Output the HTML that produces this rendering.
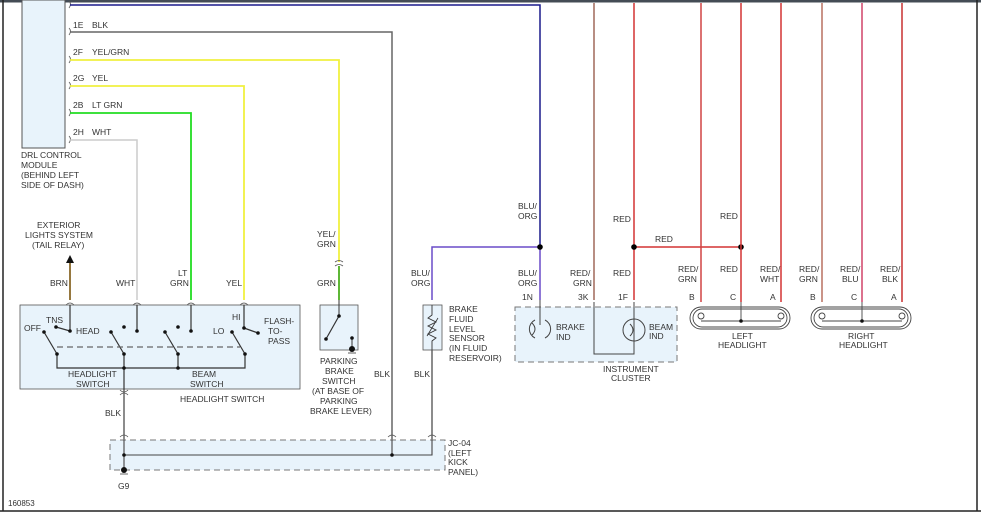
<!DOCTYPE html>
<html><head><meta charset="utf-8"><style>
html,body{margin:0;padding:0;background:#fff}
svg{display:block}
text{font-family:"Liberation Sans",sans-serif;font-size:8.5px;fill:#333}
</style></head><body>
<svg width="981" height="516" viewBox="0 0 981 516" xmlns="http://www.w3.org/2000/svg">
<rect x="0" y="0" width="981" height="2.5" fill="#444c55"/>
<line x1="3" y1="0" x2="3" y2="511" stroke="#222" stroke-width="1.5"/>
<line x1="977" y1="0" x2="977" y2="511" stroke="#222" stroke-width="1.5"/>
<line x1="0" y1="511" x2="981" y2="511" stroke="#222" stroke-width="1.5"/>

<!-- DRL module -->
<rect x="22" y="0" width="43" height="148" fill="#e8f3fb" stroke="#555" stroke-width="1"/>
<text x="21" y="158">DRL CONTROL</text><text x="21" y="168">MODULE</text><text x="21" y="178">(BEHIND LEFT</text><text x="21" y="188">SIDE OF DASH)</text>
<g fill="none" stroke="#555" stroke-width="0.8">
<path d="M69,1 q3,3 0,7"/><path d="M69,28 q3,3 0,7"/><path d="M69,56 q3,3 0,7"/><path d="M69,82 q3,3 0,7"/><path d="M69,109 q3,3 0,7"/><path d="M69,136 q3,3 0,7"/>
</g>
<text x="73" y="28">1E</text><text x="92" y="28">BLK</text>
<text x="73" y="55">2F</text><text x="92" y="55">YEL/GRN</text>
<text x="73" y="81">2G</text><text x="92" y="81">YEL</text>
<text x="73" y="108">2B</text><text x="92" y="108">LT GRN</text>
<text x="73" y="135">2H</text><text x="92" y="135">WHT</text>

<!-- wires -->
<polyline points="70,5 540,5 540,247" fill="none" stroke="#1a1a8c" stroke-width="1.5"/>
<polyline points="70,32 392,32 392,440" fill="none" stroke="#666" stroke-width="1.5"/>
<polyline points="70,60 339,60 339,262" fill="none" stroke="#f0f040" stroke-width="1.8"/>
<line x1="339" y1="266" x2="339" y2="300" stroke="#4caf20" stroke-width="1.8"/>
<polyline points="70,86 244,86 244,300" fill="none" stroke="#f0f040" stroke-width="1.8"/>
<polyline points="70,113 191,113 191,300" fill="none" stroke="#22dd22" stroke-width="1.8"/>
<polyline points="70,140 137,140 137,300" fill="none" stroke="#ccc" stroke-width="1.5"/>
<line x1="70" y1="262" x2="70" y2="300" stroke="#8a6a2a" stroke-width="1.8"/>
<polygon points="66,263 74,263 70,255" fill="#111"/>
<path d="M335,262 q4,-3 8,0 M335,266 q4,-3 8,0" fill="none" stroke="#555" stroke-width="0.8"/>

<polyline points="432,300 432,247 540,247 540,300" fill="none" stroke="#6a4cc8" stroke-width="1.5"/>
<line x1="432" y1="350" x2="432" y2="440" stroke="#666" stroke-width="1.5"/>
<line x1="124" y1="390" x2="124" y2="440" stroke="#666" stroke-width="1.5"/>
<circle cx="540" cy="247" r="2.8" fill="#000"/>

<line x1="594" y1="3" x2="594" y2="300" stroke="#a0685a" stroke-width="1.5"/>
<line x1="634" y1="3" x2="634" y2="300" stroke="#d43434" stroke-width="1.5"/>
<line x1="634" y1="247" x2="741" y2="247" stroke="#d43434" stroke-width="1.5"/>
<circle cx="634" cy="247" r="2.8" fill="#000"/><circle cx="741" cy="247" r="2.8" fill="#000"/>
<line x1="701" y1="3" x2="701" y2="302" stroke="#d04444" stroke-width="1.5"/>
<line x1="741" y1="3" x2="741" y2="302" stroke="#d43434" stroke-width="1.5"/>
<line x1="781" y1="3" x2="781" y2="302" stroke="#d43434" stroke-width="1.5"/>
<line x1="822" y1="3" x2="822" y2="302" stroke="#b87060" stroke-width="1.5"/>
<line x1="862" y1="3" x2="862" y2="302" stroke="#d04468" stroke-width="1.5"/>
<line x1="902" y1="3" x2="902" y2="302" stroke="#c83030" stroke-width="1.5"/>

<!-- labels for upper wires -->
<text x="37" y="228">EXTERIOR</text><text x="25" y="238">LIGHTS SYSTEM</text><text x="32" y="248">(TAIL RELAY)</text>
<text x="50" y="286">BRN</text><text x="116" y="286">WHT</text><text x="178" y="276">LT</text><text x="170" y="286">GRN</text><text x="226" y="286">YEL</text>
<text x="317" y="237">YEL/</text><text x="317" y="247">GRN</text><text x="317" y="286">GRN</text>
<text x="411" y="276">BLU/</text><text x="411" y="286">ORG</text>
<text x="518" y="209">BLU/</text><text x="518" y="219">ORG</text>
<text x="518" y="276">BLU/</text><text x="518" y="286">ORG</text>
<text x="570" y="276">RED/</text><text x="573" y="286">GRN</text>
<text x="613" y="222">RED</text><text x="613" y="276">RED</text>
<text x="655" y="242">RED</text><text x="720" y="219">RED</text>
<text x="678" y="272">RED/</text><text x="678" y="282">GRN</text><text x="720" y="272">RED</text><text x="760" y="272">RED/</text><text x="760" y="282">WHT</text>
<text x="799" y="272">RED/</text><text x="799" y="282">GRN</text><text x="840" y="272">RED/</text><text x="842" y="282">BLU</text><text x="880" y="272">RED/</text><text x="882" y="282">BLK</text>

<!-- headlight switch -->
<rect x="20" y="305" width="280" height="84" fill="#e8f3fb" stroke="#555" stroke-width="0.8"/>
<g fill="none" stroke="#555" stroke-width="0.8">
<path d="M66,305 q4,-4 8,0 M133,305 q4,-4 8,0 M187,305 q4,-4 8,0 M240,305 q4,-4 8,0 M120,390 q4,4 8,0 M120,395 q4,-4 8,0"/>
</g>
<g stroke="#333" stroke-width="1.2" fill="none">
<line x1="70" y1="305" x2="70" y2="331"/><line x1="137" y1="305" x2="137" y2="331"/><line x1="191" y1="305" x2="191" y2="331"/><line x1="244" y1="305" x2="244" y2="328"/>
<line x1="56" y1="327" x2="70" y2="331"/><line x1="244" y1="328" x2="258" y2="333"/>
<line x1="44" y1="332" x2="57" y2="354"/><line x1="111" y1="332" x2="124" y2="354"/><line x1="165" y1="332" x2="178" y2="354"/><line x1="232" y1="332" x2="245" y2="354"/>
<polyline points="57,354 57,368 245,368 245,354"/><line x1="124" y1="354" x2="124" y2="390"/>
<line x1="178" y1="354" x2="178" y2="368"/>
</g>
<line x1="57" y1="347" x2="240" y2="347" stroke="#666" stroke-width="1.2" stroke-dasharray="6,4"/>
<g fill="#111">
<circle cx="56" cy="327" r="1.8"/><circle cx="70" cy="331" r="1.8"/><circle cx="44" cy="332" r="1.8"/><circle cx="57" cy="354" r="1.8"/>
<circle cx="111" cy="332" r="1.8"/><circle cx="124" cy="327" r="1.8"/><circle cx="137" cy="331" r="1.8"/><circle cx="124" cy="354" r="1.8"/><circle cx="124" cy="368" r="1.8"/>
<circle cx="165" cy="332" r="1.8"/><circle cx="178" cy="327" r="1.8"/><circle cx="191" cy="331" r="1.8"/><circle cx="178" cy="354" r="1.8"/><circle cx="178" cy="368" r="1.8"/>
<circle cx="232" cy="332" r="1.8"/><circle cx="245" cy="354" r="1.8"/><circle cx="244" cy="328" r="1.8"/><circle cx="258" cy="333" r="1.8"/>
</g>
<text x="46" y="323">TNS</text><text x="24" y="331">OFF</text><text x="76" y="334">HEAD</text><text x="213" y="334">LO</text><text x="232" y="320">HI</text>
<text x="264" y="324">FLASH-</text><text x="268" y="334">TO-</text><text x="268" y="344">PASS</text>
<text x="68" y="377">HEADLIGHT</text><text x="76" y="387">SWITCH</text><text x="192" y="377">BEAM</text><text x="190" y="387">SWITCH</text>
<text x="180" y="402">HEADLIGHT SWITCH</text>
<text x="105" y="416">BLK</text>

<!-- parking brake switch -->
<rect x="320" y="305" width="38" height="45" fill="#e8f3fb" stroke="#555" stroke-width="0.8"/>
<line x1="339" y1="300" x2="339" y2="316" stroke="#333"/>
<line x1="339" y1="316" x2="326" y2="339" stroke="#333" stroke-width="1.2"/>
<circle cx="339" cy="316" r="1.8" fill="#111"/><circle cx="326" cy="339" r="1.8" fill="#111"/>
<line x1="352" y1="338" x2="352" y2="349" stroke="#333"/><circle cx="352" cy="338" r="1.8" fill="#111"/><circle cx="352" cy="349" r="3" fill="#111"/>
<line x1="348" y1="353" x2="356" y2="353" stroke="#333" stroke-width="0.8"/>
<text x="320" y="364">PARKING</text><text x="325" y="374">BRAKE</text><text x="322" y="384">SWITCH</text><text x="312" y="394">(AT BASE OF</text><text x="320" y="404">PARKING</text><text x="310" y="414">BRAKE LEVER)</text>
<text x="374" y="377">BLK</text><text x="414" y="377">BLK</text>

<!-- brake fluid sensor -->
<rect x="423" y="305" width="19" height="45" fill="#e8f3fb" stroke="#555" stroke-width="0.8"/>
<polyline points="432,305 432,315 428,318 436,322 428,326 436,330 428,334 436,338 432,341 432,350" fill="none" stroke="#333" stroke-width="0.9"/>
<line x1="427" y1="336" x2="438" y2="318" stroke="#333" stroke-width="0.8"/>
<text x="449" y="312">BRAKE</text><text x="449" y="322">FLUID</text><text x="449" y="332">LEVEL</text><text x="449" y="341">SENSOR</text><text x="449" y="351">(IN FLUID</text><text x="449" y="361">RESERVOIR)</text>

<!-- instrument cluster -->
<rect x="515" y="307" width="162" height="55" fill="#e8f3fb" stroke="#777" stroke-width="1" stroke-dasharray="6,4"/>
<polyline points="594,302 594,354 634,354 634,302" fill="none" stroke="#444" stroke-width="1"/>
<line x1="540" y1="300" x2="540" y2="325" stroke="#444"/>
<path d="M535,320 a10,10 0 0,0 0,18 M545,320 a10,10 0 0,1 0,18" fill="none" stroke="#444"/>
<circle cx="634" cy="330" r="11" fill="none" stroke="#444"/>
<path d="M532,323 q6,6 0,12 M630,324 q6,6 0,12" fill="none" stroke="#444"/>
<text x="522" y="300">1N</text><text x="578" y="300">3K</text><text x="618" y="300">1F</text>
<text x="556" y="330">BRAKE</text><text x="556" y="340">IND</text><text x="649" y="330">BEAM</text><text x="649" y="339">IND</text>
<text x="603" y="372">INSTRUMENT</text><text x="611" y="381">CLUSTER</text>

<!-- headlights -->
<g fill="none" stroke="#444" stroke-width="0.9">
<rect x="690" y="307" width="100" height="22" rx="11"/><rect x="693" y="309" width="94" height="18" rx="9"/>
<rect x="811" y="307" width="100" height="22" rx="11"/><rect x="814" y="309" width="94" height="18" rx="9"/>
<polyline points="741,302 741,321"/><polyline points="862,302 862,321"/>
<polyline points="701,321 781,321"/><polyline points="822,321 902,321"/>
<circle cx="701" cy="316" r="3"/><circle cx="781" cy="316" r="3"/><circle cx="822" cy="316" r="3"/><circle cx="902" cy="316" r="3"/>
</g>
<circle cx="741" cy="321" r="1.8" fill="#111"/><circle cx="862" cy="321" r="1.8" fill="#111"/>
<text x="689" y="300">B</text><text x="730" y="300">C</text><text x="770" y="300">A</text>
<text x="810" y="300">B</text><text x="851" y="300">C</text><text x="891" y="300">A</text>
<text x="732" y="339">LEFT</text><text x="718" y="348">HEADLIGHT</text>
<text x="848" y="339">RIGHT</text><text x="839" y="348">HEADLIGHT</text>

<!-- JC-04 -->
<rect x="110" y="440" width="335" height="30" fill="#e8f3fb" stroke="#777" stroke-width="1" stroke-dasharray="6,4"/>
<path d="M124,440 L124,470 M124,455 L432,455 L432,440 M392,455 L392,440" fill="none" stroke="#444" stroke-width="1.1"/>
<circle cx="124" cy="455" r="1.8" fill="#111"/><circle cx="392" cy="455" r="1.8" fill="#111"/><circle cx="124" cy="470" r="3" fill="#111"/>
<line x1="120" y1="474" x2="128" y2="474" stroke="#444" stroke-width="0.8"/>
<g fill="none" stroke="#555" stroke-width="0.8"><path d="M120,437 q4,-4 8,0 M388,437 q4,-4 8,0 M428,437 q4,-4 8,0"/></g>
<text x="448" y="446">JC-04</text><text x="448" y="456">(LEFT</text><text x="448" y="465">KICK</text><text x="448" y="475">PANEL)</text>
<text x="118" y="489">G9</text>
<text x="8" y="506" style="font-size:8px">160853</text>
</svg>
</body></html>
